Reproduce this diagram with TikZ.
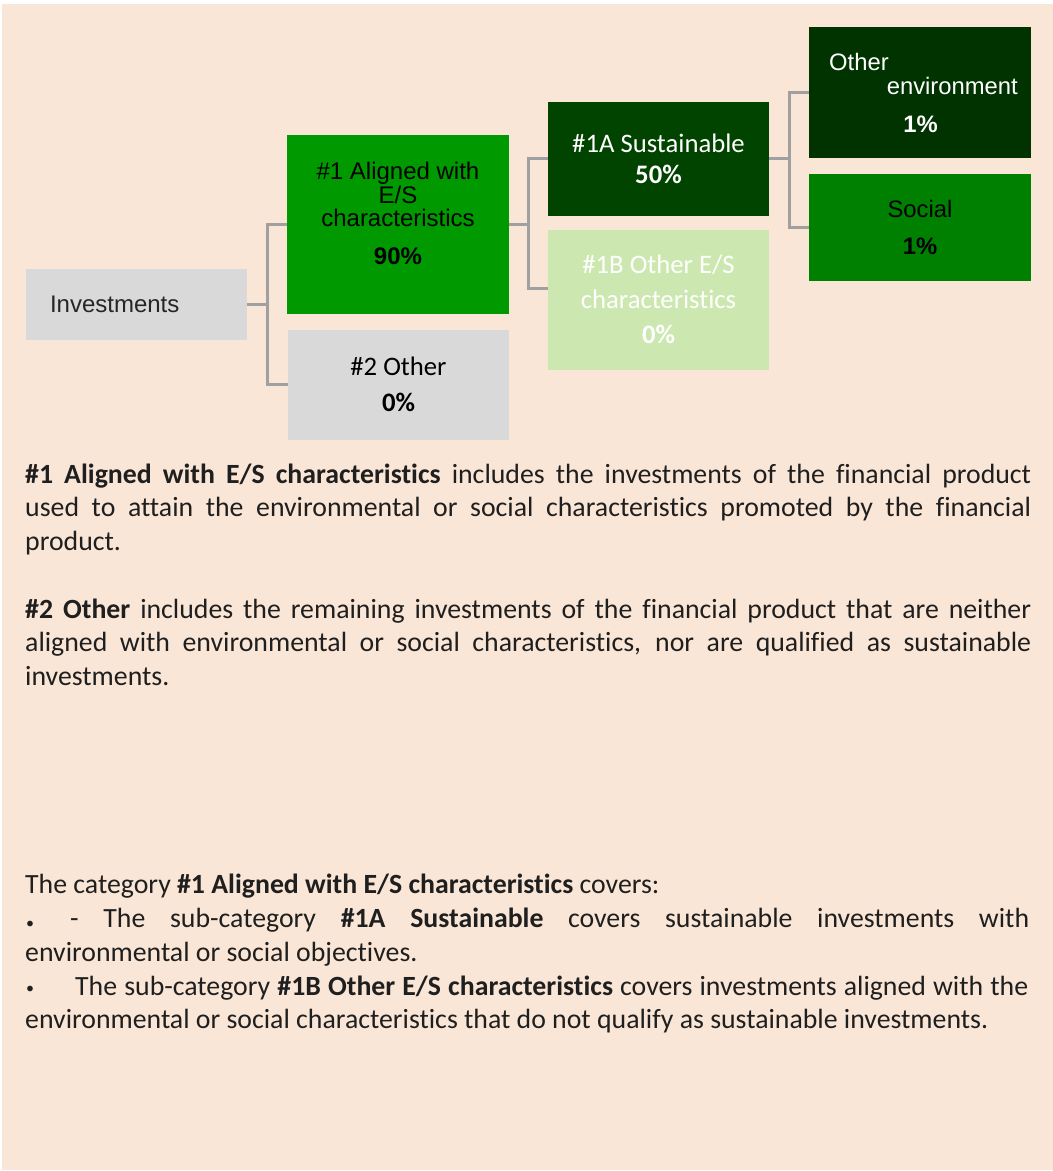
\documentclass[tikz,border=0pt]{standalone}
\usepackage{fontspec}
\setmainfont{Carlito}[Ligatures={NoCommon}]
\newfontfamily\arialf{Liberation Sans}
\usetikzlibrary{calc}
\definecolor{peach}{HTML}{FAE6D6}
\definecolor{boxgray}{HTML}{D9D9D9}
\definecolor{greenA}{HTML}{009900}
\definecolor{greenSust}{HTML}{004400}
\definecolor{greenOther}{HTML}{CCE8B0}
\definecolor{greenEnv}{HTML}{003300}
\definecolor{greenSoc}{HTML}{008000}
\definecolor{connc}{HTML}{A0A0A0}
\definecolor{bodytext}{HTML}{1F1F1F}
\definecolor{invtext}{HTML}{262626}
\begin{document}
\begin{tikzpicture}[x=1pt,y=-1pt,
  box/.style={inner sep=0pt, outer sep=0pt, draw=none},
  conn/.style={draw=connc, line width=3pt},
  bodyline/.style={anchor=base west, inner sep=0pt, font=\fontsize{27.8}{33.7}\selectfont, text=bodytext},
  bul/.style={inner sep=0pt, font=\fontsize{16}{16}\selectfont, text=bodytext}
]
\path[use as bounding box] (0,0) rectangle (1053,1171);
\fill[white] (0,0) rectangle (1053,1171);
\fill[peach] (2,4) rectangle (1053,1170);

% boxes
\node[box, fill=boxgray, minimum width=221pt, minimum height=71pt, text width=173pt, inner xsep=24pt, align=left, text=invtext, font=\arialf\fontsize{24}{28}\selectfont] (inv) at (136.5,304.5) {Investments};

\node[box, fill=greenA, minimum width=222pt, minimum height=179pt] (a1) at (398,224.5) {};
\node[inner sep=0pt, align=center, text=black, font=\arialf\fontsize{24}{23.7}\selectfont] (a1t) at (398,213.5) {\#1 Aligned with\\E/S\\characteristics\\[14pt]\textbf{90\%}};

\node[box, fill=boxgray, minimum width=221pt, minimum height=110pt, align=center, text=black, font=\fontsize{26.7}{35.7}\selectfont] (o2) at (398.5,384.5) {\#2 Other\\\textbf{0\%}};

\node[box, fill=greenSust, minimum width=221pt, minimum height=114pt, align=center, text=white, font=\fontsize{26.7}{31.7}\selectfont] (s1a) at (658.5,158.8) {\#1A Sustainable\\\textbf{50\%}};

\node[box, fill=greenOther, minimum width=221pt, minimum height=140pt, align=center, text=white, font=\fontsize{26.7}{35}\selectfont] (s1b) at (658.5,299.5) {\#1B Other E/S\\characteristics\\\textbf{0\%}};

\node[box, fill=greenEnv, minimum width=222pt, minimum height=131pt] (env) at (920,92) {};
\node[anchor=base west, inner sep=0pt, text=white, font=\arialf\fontsize{23.8}{24}\selectfont] (envl1) at (829,70) {Other};
\node[anchor=base east, inner sep=0pt, text=white, font=\arialf\fontsize{23.8}{24}\selectfont] (envl2) at (1018,94) {environment};
\node[anchor=base, inner sep=0pt, text=white, font=\arialf\fontsize{23.8}{24}\selectfont] (envl3) at (920.5,132) {\textbf{1\%}};

\node[box, fill=greenSoc, minimum width=222pt, minimum height=107pt, align=center, text=black, font=\arialf\fontsize{23.8}{37.3}\selectfont] (soc) at (920,227.5) {Social\\\textbf{1\%}};

% connectors
\coordinate (j1) at ($(inv.east)+(20,0)$);
\draw[conn] (inv.east) -- (j1) |- (a1.west);
\draw[conn] (j1) |- (o2.west);
\coordinate (j2) at ($(a1.east)+(19,0)$);
\draw[conn] (a1.east) -- (j2) |- (s1a.west);
\draw[conn] (j2) |- ($(s1b.north west)!0.42!(s1b.south west)$);
\coordinate (j3) at ($(s1a.east)+(20,0)$);
\draw[conn] (s1a.east) -- (j3) |- (env.west);
\draw[conn] (j3) |- (soc.west);

% body text
\node[bodyline] (p1a) at (25,483) {\makebox[1006pt][s]{\textbf{\#1 Aligned with E/S characteristics} includes the investments of the financial product}};
\node[bodyline] (p1b) at (25,516) {\makebox[1006pt][s]{used to attain the environmental or social characteristics promoted by the financial}};
\node[bodyline] (p1c) at (25,550) {product.};

\node[bodyline] (p2a) at (25,618) {\makebox[1006pt][s]{\textbf{\#2 Other} includes the remaining investments of the financial product that are neither}};
\node[bodyline] (p2b) at (25,651) {\makebox[1006pt][s]{aligned with environmental or social characteristics, nor are qualified as sustainable}};
\node[bodyline] (p2c) at (25,685) {investments.};

\node[bodyline] (p3a) at (25,893) {The category \textbf{\#1 Aligned with E/S characteristics} covers:};
\node[bul] (b1) at (30,925) {\textbullet};
\node[bodyline] (p3b) at (70,927) {\makebox[959pt][s]{- The sub-category \textbf{\#1A Sustainable} covers sustainable investments with}};
\node[bodyline] (p3c) at (25,961) {environmental or social objectives.};
\node[bul] (b2) at (30,990) {\textbullet};
\node[bodyline] (p3d) at (75,995) {\makebox[953pt][s]{The sub-category \textbf{\#1B Other E/S characteristics} covers investments aligned with the}};
\node[bodyline] (p3e) at (25,1028) {environmental or social characteristics that do not qualify as sustainable investments.};
\end{tikzpicture}
\end{document}
